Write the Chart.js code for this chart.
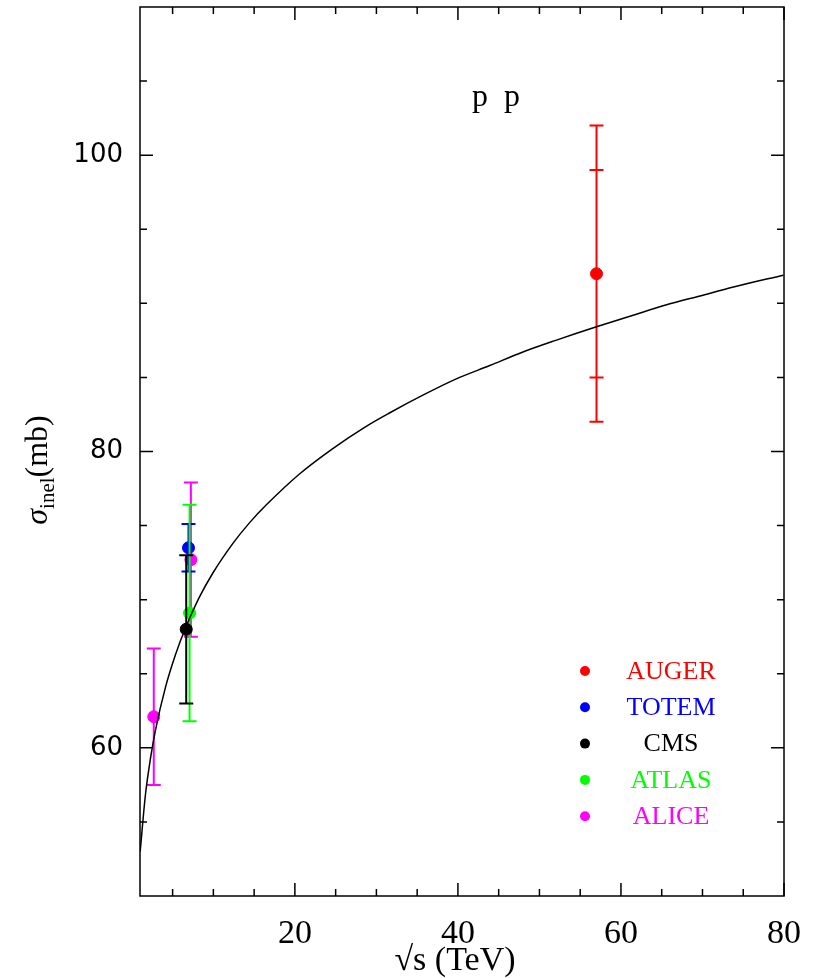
<!DOCTYPE html>
<html>
<head>
<meta charset="utf-8">
<script src="https://cdn.jsdelivr.net/npm/chart.js@4.4.0/dist/chart.umd.min.js"></script>
<style>
  html, body { margin: 0; padding: 0; background: #fff; }
</style>
</head>
<body>
<canvas id="sigmaChart" width="821" height="978"></canvas>
<script>
// theory curve: sqrt(s) in TeV -> sigma_inel in mb
const curveX = [1.02, 1.68, 2.29, 2.9, 4.13, 5.36, 6.59, 8.22, 9.94, 12.4, 14.45, 16.5, 20.6, 24.65, 28.75, 31.6, 35.7, 39.8, 43.9, 47.9, 52.0, 56.9, 61.5, 65.6, 69.7, 73.8, 79.9];
const curveY = [53.0, 56.9, 59.3, 61.2, 64.1, 66.3, 68.1, 70.1, 71.8, 73.8, 75.2, 76.4, 78.5, 80.2, 81.7, 82.6, 83.8, 84.9, 85.8, 86.7, 87.5, 88.4, 89.2, 89.9, 90.5, 91.1, 91.9];

// measurements (value, lower and upper end of the error bar)
const cmsX = [6.67], cmsY = [68.0], cmsLo = [63.0], cmsHi = [73.0];
const atlasX = [7.08], atlasY = [69.1], atlasLo = [61.8], atlasHi = [76.4];
const totemX = [6.95], totemY = [73.5], totemLo = [71.9], totemHi = [75.1];
const aliceX = [2.69, 7.24], aliceY = [62.1, 72.7], aliceLo = [57.5, 67.5], aliceHi = [66.7, 77.9];
const augerX = [57], augerY = [92], augerLo = [82], augerHi = [102];
const augerStatLo = [85], augerStatHi = [99];

const legendNames = ['AUGER', 'TOTEM', 'CMS', 'ATLAS', 'ALICE'];
const legendColors = ['#ff0000', '#0000ff', '#000000', '#00ff00', '#ff00ff'];

const xTickLabels = [20, 40, 60, 80];
const yTickLabels = [60, 80, 100];

function pts(xs, ys) {
  return xs.map((x, i) => ({ x: x, y: ys[i] }));
}

function expSet(label, color, xs, ys, lo, hi, extraLo, extraHi) {
  return {
    label: label,
    data: pts(xs, ys),
    showLine: false,
    pointRadius: 6,
    pointHoverRadius: 6,
    pointBackgroundColor: color,
    pointBorderColor: color,
    borderColor: color,
    errLo: lo,
    errHi: hi,
    errLo2: extraLo,
    errHi2: extraHi
  };
}

// error bars are drawn just before their own dataset, through the chart scales
const errorBars = {
  id: 'errorBars',
  beforeDatasetDraw(chart, args) {
    const ds = chart.data.datasets[args.index];
    if (!ds.errLo) return;
    const ctx = chart.ctx, xs = chart.scales.x, ys = chart.scales.y;
    ctx.save();
    ctx.strokeStyle = ds.borderColor;
    ctx.lineWidth = 2;
    ds.data.forEach((p, i) => {
      const px = xs.getPixelForValue(p.x);
      const top = ys.getPixelForValue(ds.errHi[i]);
      const bot = ys.getPixelForValue(ds.errLo[i]);
      ctx.beginPath();
      ctx.moveTo(px, top); ctx.lineTo(px, bot);
      ctx.moveTo(px - 7, top); ctx.lineTo(px + 7, top);
      ctx.moveTo(px - 7, bot); ctx.lineTo(px + 7, bot);
      if (ds.errLo2) {
        const t2 = ys.getPixelForValue(ds.errHi2[i]);
        const b2 = ys.getPixelForValue(ds.errLo2[i]);
        ctx.moveTo(px - 7, t2); ctx.lineTo(px + 7, t2);
        ctx.moveTo(px - 7, b2); ctx.lineTo(px + 7, b2);
      }
      ctx.stroke();
    });
    ctx.restore();
  }
};

// box with inward ticks on all four sides, axis titles, label and legend
const frame = {
  id: 'frame',
  afterDraw(chart) {
    const ctx = chart.ctx, a = chart.chartArea;
    const xs = chart.scales.x, ys = chart.scales.y;
    ctx.save();
    ctx.strokeStyle = '#000';
    ctx.lineWidth = 1.5;
    ctx.strokeRect(a.left, a.top, a.right - a.left, a.bottom - a.top);
    ctx.beginPath();
    for (let v = 5; v <= 80; v += 5) {
      const px = xs.getPixelForValue(v);
      const len = v % 20 === 0 ? 13 : 7;
      ctx.moveTo(px, a.bottom); ctx.lineTo(px, a.bottom - len);
      ctx.moveTo(px, a.top); ctx.lineTo(px, a.top + len);
    }
    for (let v = 55; v <= 105; v += 5) {
      const py = ys.getPixelForValue(v);
      const len = v % 20 === 0 ? 13 : 7;
      ctx.moveTo(a.left, py); ctx.lineTo(a.left + len, py);
      ctx.moveTo(a.right, py); ctx.lineTo(a.right - len, py);
    }
    ctx.stroke();

    ctx.fillStyle = '#000';
    ctx.textAlign = 'center';
    ctx.textBaseline = 'alphabetic';
    ctx.font = '34px "Liberation Serif"';
    ctx.fillText('\u221As (TeV)', 455, 970);

    ctx.font = '32px "Liberation Serif"';
    ctx.fillText('p  p', 496, 106);

    // y title, rotated
    ctx.save();
    ctx.translate(47, 470);
    ctx.rotate(-Math.PI / 2);
    ctx.textAlign = 'left';
    const f1 = 'italic 32px "Liberation Serif"', f2 = '21px "Liberation Serif"', f3 = '32px "Liberation Serif"';
    ctx.font = f1; const w1 = ctx.measureText('\u03C3').width;
    ctx.font = f2; const w2 = ctx.measureText('inel').width;
    ctx.font = f3; const w3 = ctx.measureText('(mb)').width;
    let x0 = -(w1 + w2 + w3) / 2;
    ctx.font = f1; ctx.fillText('\u03C3', x0, 0); x0 += w1;
    ctx.font = f2; ctx.fillText('inel', x0, 7); x0 += w2;
    ctx.font = f3; ctx.fillText('(mb)', x0, 0);
    ctx.restore();

    ctx.font = '26px "Liberation Serif"';
    ctx.textAlign = 'center';
    ctx.textBaseline = 'middle';
    legendNames.forEach((name, i) => {
      const y = 671 + i * 36.3;
      ctx.fillStyle = legendColors[i];
      ctx.beginPath();
      ctx.arc(585, y, 5, 0, Math.PI * 2);
      ctx.fill();
      ctx.fillText(name, 671, y + 1);
    });
    ctx.restore();
  }
};

const ctx = document.getElementById('sigmaChart').getContext('2d');

new Chart(ctx, {
  type: 'scatter',
  data: {
    datasets: [
      {
        label: 'fit',
        data: pts(curveX, curveY),
        showLine: true,
        borderColor: '#000',
        borderWidth: 1.5,
        pointRadius: 0,
        cubicInterpolationMode: 'monotone'
      },
      expSet('CMS', '#000000', cmsX, cmsY, cmsLo, cmsHi),
      expSet('ATLAS', '#00ff00', atlasX, atlasY, atlasLo, atlasHi),
      expSet('TOTEM', '#0000ff', totemX, totemY, totemLo, totemHi),
      expSet('ALICE', '#ff00ff', aliceX, aliceY, aliceLo, aliceHi),
      expSet('AUGER', '#ff0000', augerX, augerY, augerLo, augerHi, augerStatLo, augerStatHi)
    ]
  },
  options: {
    responsive: false,
    animation: false,
    layout: { padding: { top: 7, right: 37, left: 0, bottom: 0 } },
    plugins: {
      legend: { display: false },
      tooltip: { enabled: false }
    },
    scales: {
      x: {
        type: 'linear',
        min: 1,
        max: 80,
        afterFit: s => { s.height = 82; s.paddingLeft = 0; s.paddingRight = 0; },
        afterBuildTicks: s => { s.ticks = xTickLabels.map(v => ({ value: v })); },
        grid: { display: false, drawTicks: false },
        border: { display: false },
        ticks: {
          color: '#000',
          padding: 18,
          maxRotation: 0,
          autoSkip: false,
          font: { family: 'Liberation Serif', size: 34 }
        }
      },
      y: {
        min: 50,
        max: 110,
        afterFit: s => { s.width = 140; s.paddingTop = 0; s.paddingBottom = 0; },
        afterBuildTicks: s => { s.ticks = yTickLabels.map(v => ({ value: v })); },
        grid: { display: false, drawTicks: false },
        border: { display: false },
        ticks: {
          color: '#000',
          padding: 17,
          autoSkip: false,
          font: { family: 'DejaVu Sans', size: 26 }
        }
      }
    }
  },
  plugins: [errorBars, frame]
});
</script>
</body>
</html>
